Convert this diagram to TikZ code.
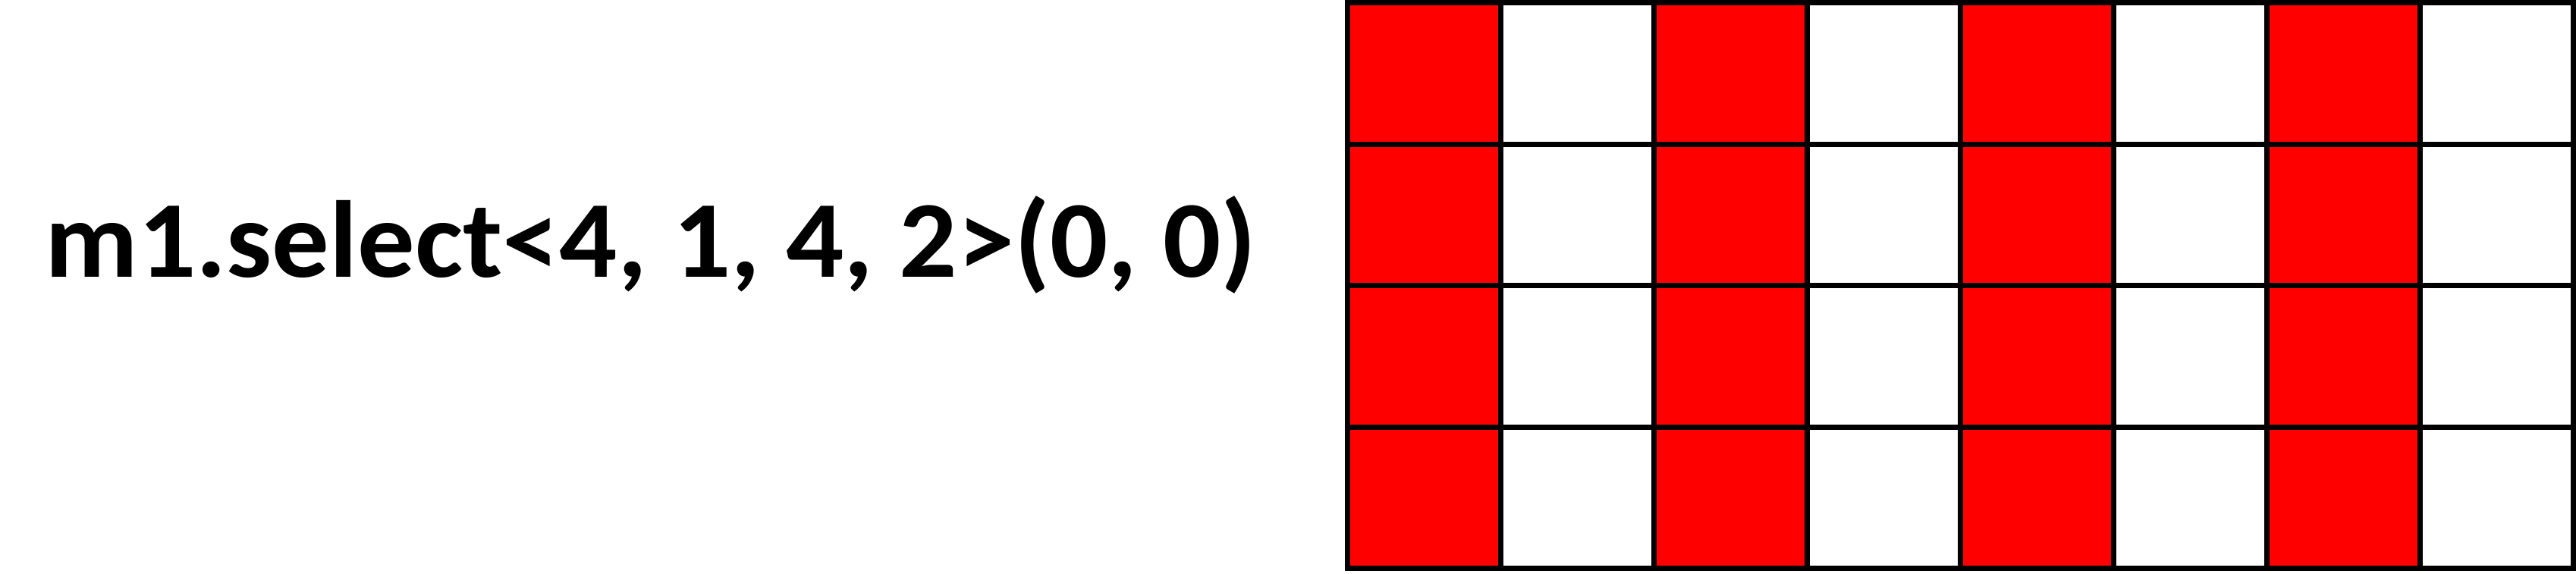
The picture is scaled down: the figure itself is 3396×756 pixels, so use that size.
\documentclass[tikz,border=0pt]{standalone}
\usepackage{fontspec}
\setmainfont{Carlito}
\usepackage{tikz}
\usetikzlibrary{positioning}
\tikzset{
  celda/.style={draw=black,line width=2pt},
  elegida/.style={celda,fill=red},
  libre/.style={celda,fill=white},
  codigo/.style={font=\fontsize{41}{49}\selectfont\bfseries,inner sep=0pt,xscale=1.045}
}
\begin{document}
\begin{tikzpicture}[x=0.01cm,y=-0.01cm]
\useasboundingbox (0,0) rectangle (3396,756);
\node[codigo,anchor=base west] (expr) at (59,365) {m1.select<4, 1, 4, 2>(0, 0)};
\foreach \c in {0,...,7}{
  \foreach \r in {0,...,3}{
    \pgfmathparse{int(mod(\c,2))}
    \ifnum\pgfmathresult=0
      \draw[elegida] ({1776+202*\c},{3.5+186.6*\r}) rectangle ++(202,186.6);
    \else
      \draw[libre] ({1776+202*\c},{3.5+186.6*\r}) rectangle ++(202,186.6);
    \fi
  }
}
\end{tikzpicture}
\end{document}
